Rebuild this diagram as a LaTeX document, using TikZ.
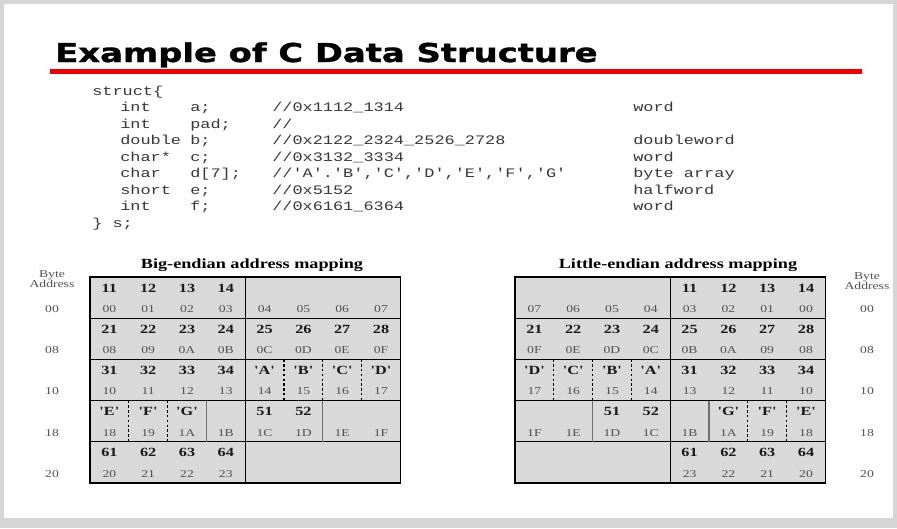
\documentclass[tikz,border=0pt]{standalone}
\usepackage{fontspec}
\newfontfamily\titlefont{DejaVu Sans}[BoldFeatures={FakeBold=1.2}]
\newfontfamily\codefont{Liberation Mono}
\newfontfamily\tabfont{Liberation Serif}

\definecolor{slidegray}{RGB}{214,214,214}
\definecolor{cellgray}{RGB}{217,217,217}
\definecolor{titlered}{RGB}{232,0,0}
\definecolor{labelgray}{RGB}{80,80,80}
\definecolor{codegray}{RGB}{55,55,55}
\definecolor{softline}{RGB}{110,110,110}

% vertical divider inside one row of a memory map:
% #1 style, #2 left edge of the map, #3 column boundary, #4 row
\newcommand\gridrule[4]{%
  \draw[#1] ({#2+#3*38.8},{277+(#4-1)*41.2}) -- ({#2+#3*38.8},{277+#4*41.2});}

\begin{document}
\begin{tikzpicture}[
  x=0.7692308pt, y=-1pt, xscale=1.3, transform shape,
  titletext/.style={font=\titlefont\bfseries\fontsize{26}{30}\selectfont,
    inner sep=0, anchor=base west},
  code/.style={font=\codefont\fontsize{13}{16}\selectfont, text=codegray,
    inner sep=0, anchor=mid west},
  caption/.style={font=\tabfont\bfseries\fontsize{14}{16}\selectfont, inner sep=0},
  bignum/.style={font=\tabfont\bfseries\fontsize{12.5}{14}\selectfont,
    text=black!90, inner sep=0},
  addr/.style={font=\tabfont\fontsize{10.5}{12}\selectfont, text=labelgray, inner sep=0},
  addrhead/.style={font=\tabfont\fontsize{10.5}{10}\selectfont, text=labelgray,
    inner sep=0, align=center},
  rowrule/.style={black, line width=1.3pt},
  frame/.style={black, line width=1.6pt},
  dotsep/.style={black, line width=1.3pt, dash pattern=on 2.4pt off 2.4pt},
  softsep/.style={softline, line width=1.2pt},
]
\useasboundingbox (0,0) rectangle (897,528);

% slide
\fill[slidegray] (0,0) rectangle (897,528);
\fill[white] (4,4) rectangle (893,518);

% heading
\node[titletext] (title) at (55,62) {Example of C Data Structure};
\coordinate (rule-l) at (50,71.5);
\coordinate (rule-r) at (862,71.5);
\draw[titlered, line width=5pt] (rule-l) -- (rule-r);

% structure declaration
\node[code] (s0) at (92,93) {struct\{};
\node[code] (t1) at (120,109.5) {int};
\node[code] (n1) at (190,109.5) {a;};
\node[code] (c1) at (272,109.5) {//0x1112\_1314};
\node[code] (k1) at (633,109.5) {word};
\node[code] (t2) at (120,126) {int};
\node[code] (n2) at (190,126) {pad;};
\node[code] (c2) at (272,126) {//};
\node[code] (t3) at (120,142.5) {double};
\node[code] (n3) at (190,142.5) {b;};
\node[code] (c3) at (272,142.5) {//0x2122\_2324\_2526\_2728};
\node[code] (k3) at (633,142.5) {doubleword};
\node[code] (t4) at (120,159) {char*};
\node[code] (n4) at (190,159) {c;};
\node[code] (c4) at (272,159) {//0x3132\_3334};
\node[code] (k4) at (633,159) {word};
\node[code] (t5) at (120,175.5) {char};
\node[code] (n5) at (190,175.5) {d[7];};
\node[code] (c5) at (272,175.5) {//'A'.'B','C','D','E','F','G'};
\node[code] (k5) at (633,175.5) {byte array};
\node[code] (t6) at (120,192) {short};
\node[code] (n6) at (190,192) {e;};
\node[code] (c6) at (272,192) {//0x5152};
\node[code] (k6) at (633,192) {halfword};
\node[code] (t7) at (120,208.5) {int};
\node[code] (n7) at (190,208.5) {f;};
\node[code] (c7) at (272,208.5) {//0x6161\_6364};
\node[code] (k7) at (633,208.5) {word};
\node[code] (s9) at (92,225) {\} s;};

% map captions
\node[caption] (be-cap) at (252,265) {Big-endian address mapping};
\node[caption] (le-cap) at (678,265) {Little-endian address mapping};

% ---------- big-endian map (left edge 90) ----------
\fill[cellgray] (90,277) rectangle ({90+8*38.8},{277+5*41.2});
\foreach \r in {1,...,4}
  \draw[rowrule] (90,{277+\r*41.2}) -- ({90+8*38.8},{277+\r*41.2});
\draw[rowrule] ({90+4*38.8},277) -- ({90+4*38.8},{277+5*41.2});
\foreach \k in {5,6,7} \gridrule{dotsep}{90}{\k}{3}
\foreach \k in {1,2} \gridrule{dotsep}{90}{\k}{4}
\gridrule{softsep}{90}{3}{4}
\gridrule{softsep}{90}{6}{4}
\draw[frame] (90,277) rectangle ({90+8*38.8},{277+5*41.2});

\foreach \r/\items in {
    1/{1/11,2/12,3/13,4/14},
    2/{1/21,2/22,3/23,4/24,5/25,6/26,7/27,8/28},
    3/{1/31,2/32,3/33,4/34,5/'A',6/'B',7/'C',8/'D'},
    4/{1/'E',2/'F',3/'G',5/51,6/52},
    5/{1/61,2/62,3/63,4/64}}
  \foreach \c/\t in \items
    \node[bignum] (be-v\r\c) at ({90+(\c-0.5)*38.8},{277+(\r-1)*41.2+11}) {\t};

\foreach \r/\items in {
    1/{00,01,02,03,04,05,06,07},
    2/{08,09,0A,0B,0C,0D,0E,0F},
    3/{10,11,12,13,14,15,16,17},
    4/{18,19,1A,1B,1C,1D,1E,1F},
    5/{20,21,22,23}}
  \foreach \t [count=\c] in \items
    \node[addr] (be-a\r\c) at ({90+(\c-0.5)*38.8},{277+(\r-1)*41.2+32}) {\t};

% ---------- little-endian map (left edge 515) ----------
\fill[cellgray] (515,277) rectangle ({515+8*38.8},{277+5*41.2});
\foreach \r in {1,...,4}
  \draw[rowrule] (515,{277+\r*41.2}) -- ({515+8*38.8},{277+\r*41.2});
\draw[rowrule] ({515+4*38.8},277) -- ({515+4*38.8},{277+5*41.2});
\foreach \k in {1,2,3} \gridrule{dotsep}{515}{\k}{3}
\foreach \k in {6,7} \gridrule{dotsep}{515}{\k}{4}
\gridrule{softsep}{515}{2}{4}
\gridrule{softsep}{515}{5}{4}
\draw[frame] (515,277) rectangle ({515+8*38.8},{277+5*41.2});

\foreach \r/\items in {
    1/{5/11,6/12,7/13,8/14},
    2/{1/21,2/22,3/23,4/24,5/25,6/26,7/27,8/28},
    3/{1/'D',2/'C',3/'B',4/'A',5/31,6/32,7/33,8/34},
    4/{3/51,4/52,6/'G',7/'F',8/'E'},
    5/{5/61,6/62,7/63,8/64}}
  \foreach \c/\t in \items
    \node[bignum] (le-v\r\c) at ({515+(\c-0.5)*38.8},{277+(\r-1)*41.2+11}) {\t};

\foreach \r/\items in {
    1/{1/07,2/06,3/05,4/04,5/03,6/02,7/01,8/00},
    2/{1/0F,2/0E,3/0D,4/0C,5/0B,6/0A,7/09,8/08},
    3/{1/17,2/16,3/15,4/14,5/13,6/12,7/11,8/10},
    4/{1/1F,2/1E,3/1D,4/1C,5/1B,6/1A,7/19,8/18},
    5/{5/23,6/22,7/21,8/20}}
  \foreach \c/\t in \items
    \node[addr] (le-a\r\c) at ({515+(\c-0.5)*38.8},{277+(\r-1)*41.2+32}) {\t};

% ---------- byte address columns ----------
\node[addrhead] (be-head) at (52,279) {Byte\\Address};
\node[addrhead] (le-head) at (867,281) {Byte\\Address};
\foreach \t [count=\r] in {00,08,10,18,20} {
  \node[addr] (be-row\r) at (52,{277+(\r-1)*41.2+32}) {\t};
  \node[addr] (le-row\r) at (867,{277+(\r-1)*41.2+32}) {\t};
}
\end{tikzpicture}
\end{document}
